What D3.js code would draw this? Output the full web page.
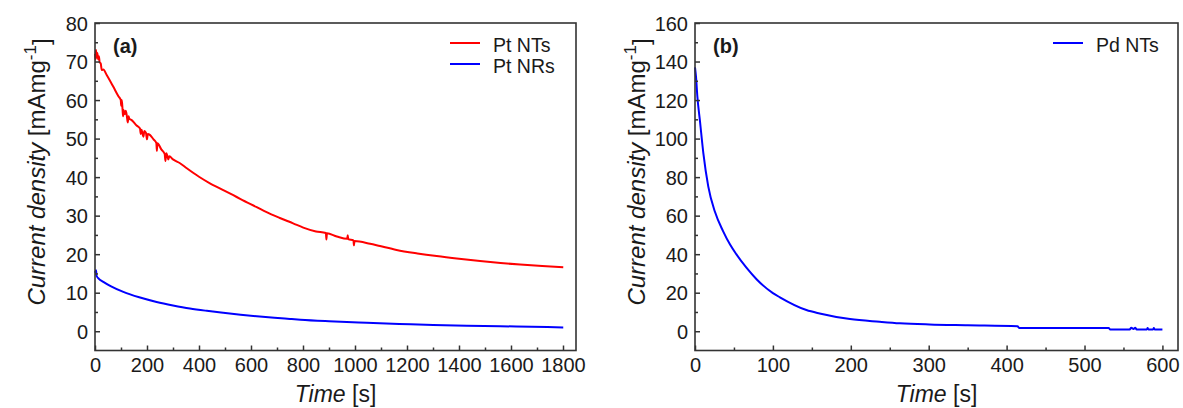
<!DOCTYPE html>
<html>
<head>
<meta charset="utf-8">
<script src="https://cdn.jsdelivr.net/npm/d3@7"></script>
<style>
  body { margin: 0; background: #ffffff; }
  text { font-family: "Liberation Sans", Arial, sans-serif; fill: #1a1a1a; }
</style>
</head>
<body>
<script>
// panel (a): Pt NTs / Pt NRs, time in s, current density in mA/mg
var timeNT = [0, 2, 4, 6, 9, 12, 15, 18, 22, 26, 32, 45, 70, 90, 99, 101, 103, 106, 108, 110, 114, 118, 122, 126, 129, 132, 141, 160, 173, 176, 179, 186, 190, 196, 200, 203, 212, 225, 236, 238, 240, 255, 268, 271, 274, 278, 282, 286, 300, 327, 353, 400, 442, 480, 532, 560, 622, 660, 711, 762, 801, 850, 888, 890, 892, 930, 970, 972, 974, 994, 996, 998, 1058, 1096, 1160, 1240, 1314, 1400, 1481, 1560, 1635, 1720, 1801];
var ptNTs = [72, 70.5, 73, 71, 72.2, 70.6, 71.4, 69.8, 69.5, 67.8, 67.9, 66.5, 63.5, 61, 60, 58.5, 60, 57.5, 55.8, 57.4, 56.3, 57.2, 56.1, 54.2, 55.8, 55.2, 54.8, 53.4, 52.6, 51.2, 52.3, 50.5, 52, 51.5, 49.8, 51.2, 50.9, 49.8, 48.8, 46.8, 48.8, 47.2, 46, 44.2, 46.2, 45.6, 44.6, 45.4, 44.6, 43.6, 42.3, 40.1, 38.4, 37.1, 35.3, 34.3, 32.2, 30.9, 29.4, 28, 26.9, 25.9, 25.5, 23.8, 25.4, 24.6, 24, 24.9, 23.9, 23.6, 22.3, 23.4, 22.7, 22.1, 21.1, 20.2, 19.5, 18.8, 18.2, 17.7, 17.3, 16.9, 16.6];
var timeNR = [0, 2, 4, 6, 15, 32, 60, 109, 170, 237, 300, 365, 430, 493, 560, 622, 690, 750, 790, 900, 1045, 1170, 1301, 1430, 1558, 1680, 1801];
var ptNRs = [15.6, 15.2, 15.8, 14.4, 13.6, 12.8, 11.7, 10.2, 8.8, 7.6, 6.7, 5.9, 5.3, 4.8, 4.3, 3.9, 3.5, 3.2, 3.0, 2.6, 2.2, 1.9, 1.6, 1.45, 1.3, 1.15, 1.0];

// panel (b): Pd NTs
var timePd = [0, 1.3, 3, 6.4, 10.7, 17, 25.6, 36, 45, 53, 66, 79, 100, 109, 143, 160, 199, 237, 263, 301, 350, 414, 416, 531, 533, 558, 560, 563, 565, 567, 580, 581, 582, 588, 589, 590, 600];
var pdNTs = [137, 132, 122, 109, 92.5, 75.2, 62, 52, 45, 40, 33, 27, 19.8, 17.6, 11, 9.2, 6.3, 4.9, 4.1, 3.5, 3.1, 2.6, 1.7, 1.7, 0.9, 0.9, 1.8, 1.2, 1.8, 0.9, 0.9, 1.7, 0.9, 0.9, 1.7, 0.9, 0.9];

var xTicksA = [0, 200, 400, 600, 800, 1000, 1200, 1400, 1600, 1800];
var yTicksA = [0, 10, 20, 30, 40, 50, 60, 70, 80];
var xTicksB = [0, 100, 200, 300, 400, 500, 600];
var yTicksB = [0, 20, 40, 60, 80, 100, 120, 140, 160];

var svg = d3.select("body").append("svg")
    .attr("width", 1183)
    .attr("height", 408);

var panels = [
    {
        left: 95, right: 576, top: 23, bottom: 350.5,
        xDomain: [0, 1850], yDomain: [-5, 80],
        xTicks: xTicksA, yTicks: yTicksA, xStep: 100, yStep: 5,
        tag: "(a)", titleX: 45,
        series: [
            { name: "Pt NTs", color: "#ff0000", t: timeNT, v: ptNTs },
            { name: "Pt NRs", color: "#0000ff", t: timeNR, v: ptNRs }
        ],
        legendX: 450
    },
    {
        left: 695, right: 1178, top: 23, bottom: 350.5,
        xDomain: [0, 620], yDomain: [-10, 160],
        xTicks: xTicksB, yTicks: yTicksB, xStep: 50, yStep: 10,
        tag: "(b)", titleX: 645,
        series: [
            { name: "Pd NTs", color: "#0000ff", t: timePd, v: pdNTs }
        ],
        legendX: 1053
    }
];

panels.forEach(function (p) {
    var x = d3.scaleLinear().domain(p.xDomain).range([p.left, p.right]);
    var y = d3.scaleLinear().domain(p.yDomain).range([p.bottom, p.top]);

    var minorX = d3.range(p.xDomain[0] + p.xStep, p.xDomain[1], p.xStep).filter(function (d) { return p.xTicks.indexOf(d) < 0; });
    var minorY = d3.range(p.yDomain[0], p.yDomain[1] + 0.001, p.yStep).filter(function (d) { return p.yTicks.indexOf(d) < 0 && d > p.yDomain[0]; });

    // curves first, frame on top
    var line = d3.line()
        .curve(d3.curveMonotoneX)
        .x(function (d) { return x(d[0]); })
        .y(function (d) { return y(d[1]); });

    p.series.forEach(function (s) {
        var pts = s.t.map(function (t, i) { return [t, s.v[i]]; });
        svg.append("path")
            .datum(pts)
            .attr("fill", "none")
            .attr("stroke", s.color)
            .attr("stroke-width", 2)
            .attr("stroke-linejoin", "round")
            .attr("d", line);
    });

    var xAxis = svg.append("g")
        .attr("transform", "translate(0," + p.bottom + ")")
        .call(d3.axisBottom(x).tickValues(p.xTicks).tickFormat(d3.format("d")).tickSizeInner(-5).tickSizeOuter(0).tickPadding(7));
    svg.append("g")
        .attr("transform", "translate(0," + p.bottom + ")")
        .call(d3.axisBottom(x).tickValues(minorX).tickSizeInner(-3).tickSizeOuter(0).tickFormat(""));

    var yAxis = svg.append("g")
        .attr("transform", "translate(" + p.left + ",0)")
        .call(d3.axisLeft(y).tickValues(p.yTicks).tickFormat(d3.format("d")).tickSizeInner(-5).tickSizeOuter(0).tickPadding(7));
    svg.append("g")
        .attr("transform", "translate(" + p.left + ",0)")
        .call(d3.axisLeft(y).tickValues(minorY).tickSizeInner(-3).tickSizeOuter(0).tickFormat(""));

    svg.selectAll(".domain").remove();
    svg.selectAll(".tick line").attr("stroke", "#333").attr("stroke-width", 1.5);
    xAxis.selectAll("text").style("font-size", "20px").attr("fill", "#1a1a1a");
    yAxis.selectAll("text").style("font-size", "20px").attr("fill", "#1a1a1a").attr("dy", "0.36em");

    svg.append("rect")
        .attr("x", p.left)
        .attr("y", p.top)
        .attr("width", p.right - p.left)
        .attr("height", p.bottom - p.top)
        .attr("fill", "none")
        .attr("stroke", "#333")
        .attr("stroke-width", 1.6);

    // panel tag
    svg.append("text")
        .attr("x", p.left + 18)
        .attr("y", p.top + 30)
        .style("font-size", "20px")
        .style("font-weight", "bold")
        .text(p.tag);

    // legend
    p.series.forEach(function (s, i) {
        var ly = p.top + 20 + i * 21;
        svg.append("line")
            .attr("x1", p.legendX).attr("x2", p.legendX + 30)
            .attr("y1", ly).attr("y2", ly)
            .attr("stroke", s.color)
            .attr("stroke-width", 2);
        svg.append("text")
            .attr("x", p.legendX + 43)
            .attr("y", ly + 2)
            .attr("dy", "0.36em")
            .style("font-size", "19.5px")
            .text(s.name);
    });

    // axis titles
    var xt = svg.append("text")
        .attr("x", (p.left + p.right) / 2)
        .attr("y", 402)
        .attr("text-anchor", "middle")
        .style("font-size", "23px");
    xt.append("tspan").style("font-style", "italic").text("Time");
    xt.append("tspan").text(" [s]");

    var yt = svg.append("text")
        .attr("transform", "translate(" + p.titleX + "," + 172 + ") rotate(-90)")
        .attr("text-anchor", "middle")
        .style("font-size", "24px");
    yt.append("tspan").style("font-style", "italic").text("Current density");
    yt.append("tspan").text(" [mAmg");
    yt.append("tspan").attr("dy", "-0.55em").style("font-size", "17px").text("-1");
    yt.append("tspan").attr("dy", "0.55em").text("]");
});
</script>
</body>
</html>
